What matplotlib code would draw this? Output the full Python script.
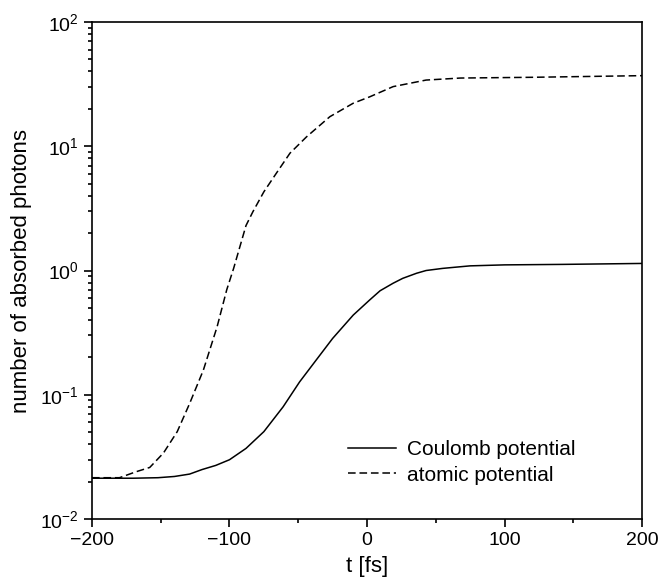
# -*- coding: utf-8 -*-

import numpy as np
import matplotlib.pyplot as plt

plt.rcParams['font.family'] = ['Liberation Sans', 'DejaVu Sans']
plt.rcParams['mathtext.default'] = 'regular'

# values
t_coulomb = [-200, -170, -152, -140, -129, -120, -110, -100, -88, -75, -61,
             -49, -37, -25, -10, 2, 9.5, 19, 26, 36, 43, 55, 63, 75, 100,
             142, 200]
n_coulomb = [0.0213, 0.0213, 0.0215, 0.022, 0.023, 0.025, 0.027, 0.030,
             0.037, 0.0505, 0.080, 0.127, 0.19, 0.284, 0.438, 0.58, 0.687,
             0.79, 0.865, 0.95, 1.0, 1.04, 1.06, 1.09, 1.11, 1.12, 1.14]

t_atomic = [-200, -180, -168, -158, -148, -138, -129, -119, -109, -102, -97,
            -88, -83, -75, -66, -56, -44, -27, -10, 2, 19, 43, 68, 121, 200]
n_atomic = [0.0215, 0.0215, 0.024, 0.026, 0.034, 0.0505, 0.085, 0.158, 0.353,
            0.70, 1.04, 2.3, 2.97, 4.3, 6.05, 8.8, 11.9, 17.3, 22.2, 25, 30.2,
            34.1, 35.4, 35.9, 37]

xticks = [-200, -100, 0, 100, 200]
xminor = [-150, -50, 50, 150]

fig = plt.figure(figsize=(6.58, 5.79), dpi=100)
ax = fig.add_axes([0.1398, 0.1036, 0.8359, 0.8584])

ax.plot(t_coulomb, n_coulomb, color='k', lw=1.1, label='Coulomb potential')
ax.plot(t_atomic, n_atomic, color='k', lw=1.1, dashes=(5, 2.5),
        label='atomic potential')

ax.set_yscale('log')
ax.set_xlim(-200, 200)
ax.set_ylim(1e-2, 1e2)
ax.set_xticks(xticks)
ax.set_xticks(xminor, minor=True)

for s in ax.spines.values():
    s.set_linewidth(1.2)

ax.tick_params(which='both', direction='out', width=1.2, labelsize=14,
               top=False, right=False)
ax.tick_params(which='major', length=6)
ax.tick_params(which='minor', length=3)

ax.set_xlabel('t [fs]', fontsize=16, labelpad=5)
ax.set_ylabel('number of absorbed photons', fontsize=16, labelpad=6)

ax.legend(frameon=False, loc='upper left', bbox_to_anchor=(0.465, 0.158),
          fontsize=15, handlelength=2.3, handletextpad=0.55,
          labelspacing=0.3, borderpad=0, borderaxespad=0)

plt.savefig('out.png', dpi=100)
